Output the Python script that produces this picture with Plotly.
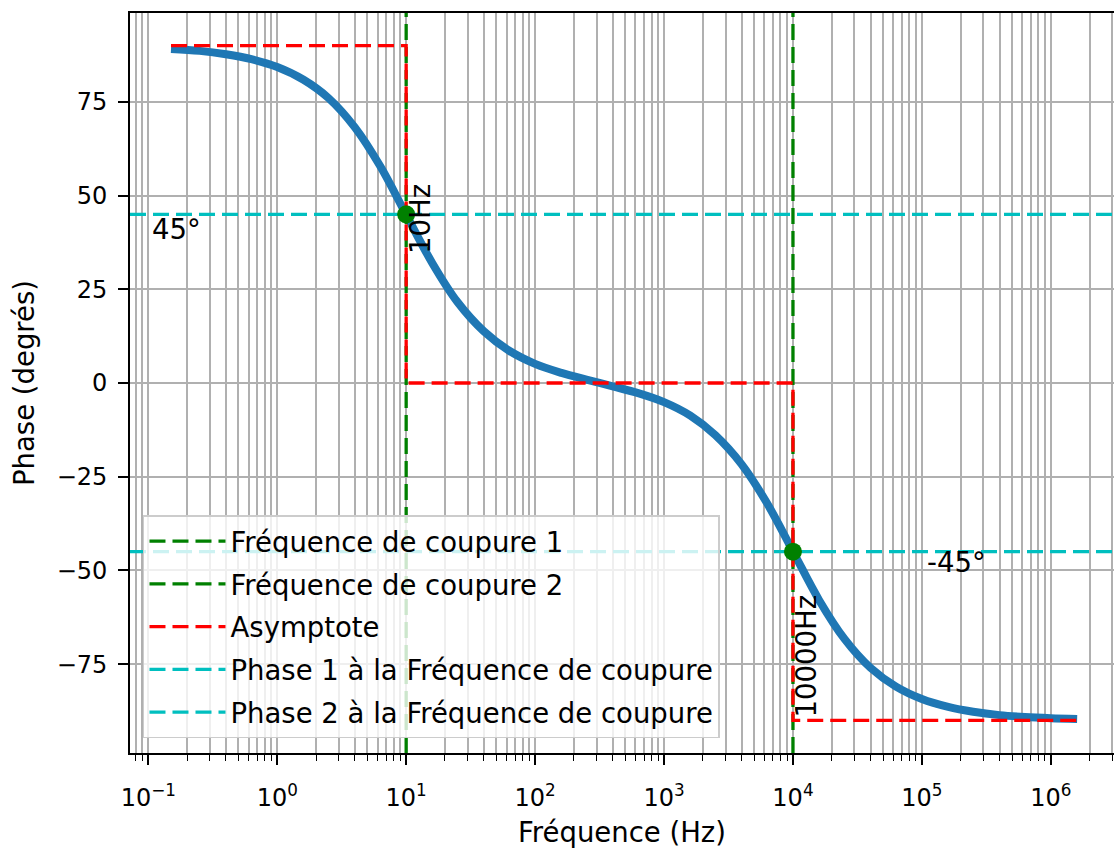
import plotly.graph_objects as go

# Cutoff frequencies (Hz) and phase at each cutoff (degrees)
f_c1 = 10
f_c2 = 10000
phase_c1 = 45
phase_c2 = -45

# Phase response of the filter
freq_hz = [0.15, 0.25, 0.4, 0.63, 1, 1.6, 2.5, 4, 6.3, 10, 16, 25, 40, 63, 100,
           160, 250, 400, 630, 1000, 1600, 2500, 4000, 6300, 10000, 16000,
           25000, 40000, 63000, 1e5, 1.6e5, 2.5e5, 4e5, 6.3e5, 1e6, 1.6e6]
phase_deg = [89.1, 88.6, 87.7, 86.4, 84.3, 80.9, 76.0, 68.2, 57.8, 44.9, 31.9,
             21.6, 13.8, 8.6, 5.1, 2.7, 0.9, -0.9, -2.7, -5.1, -8.7, -13.9,
             -21.7, -32.1, -44.9, -58.0, -68.2, -76.0, -81.0, -84.3, -86.4,
             -87.7, -88.6, -89.1, -89.4, -89.6]

# Straight-line asymptotic approximation
asym_freq = [0.15, 10, 10, 10000, 10000, 1.6e6]
asym_phase = [90, 90, 0, 0, -90, -90]

# Axis extents (log10 decades for x, degrees for y) and ticks
x_lo, x_hi = -1.142, 6.49
y_lo, y_hi = -98.7, 98.7
y_ticks = [-75, -50, -25, 0, 25, 50, 75]
x_decades = [-1, 0, 1, 2, 3, 4, 5, 6]
x_tick_text = ["10<sup>%s</sup>" % str(d).replace("-", "\u2212") for d in x_decades]

FONT = "DejaVu Sans"
FS = 27.5
TICK_FS = 24
GRID = "#b0b0b0"
DASH = "16px,7px"
LW = 3.3

fig = go.Figure()

fig.add_trace(go.Scatter(x=freq_hz, y=phase_deg, mode="lines",
                         line=dict(color="#1f77b4", width=8, shape="spline"),
                         showlegend=False, hoverinfo="skip"))

x_span = [10 ** x_lo, 10 ** x_hi]
y_span = [y_lo, y_hi]

fig.add_trace(go.Scatter(x=[f_c1, f_c1], y=y_span, mode="lines",
                         line=dict(color="#008000", width=LW, dash=DASH),
                         name="Fréquence de coupure 1", legendgroup="a"))
fig.add_trace(go.Scatter(x=[f_c2, f_c2], y=y_span, mode="lines",
                         line=dict(color="#008000", width=LW, dash=DASH),
                         name="Fréquence de coupure 2", legendgroup="b"))
fig.add_trace(go.Scatter(x=asym_freq, y=asym_phase, mode="lines",
                         line=dict(color="#ff0000", width=LW, dash=DASH),
                         name="Asymptote", legendgroup="c"))
fig.add_trace(go.Scatter(x=x_span, y=[phase_c1, phase_c1], mode="lines",
                         line=dict(color="#00bfbf", width=LW, dash=DASH),
                         name="Phase 1 à la Fréquence de coupure", legendgroup="d"))
fig.add_trace(go.Scatter(x=x_span, y=[phase_c2, phase_c2], mode="lines",
                         line=dict(color="#00bfbf", width=LW, dash=DASH),
                         name="Phase 2 à la Fréquence de coupure", legendgroup="e"))
fig.add_trace(go.Scatter(x=[f_c1, f_c2], y=[phase_c1, phase_c2], mode="markers",
                         marker=dict(color="#008000", size=18),
                         showlegend=False))

# Text labels
fig.add_annotation(x=-0.99, y=41, xref="x", yref="y", text="45°",
                   showarrow=False, xanchor="left", yanchor="middle",
                   font=dict(family=FONT, size=FS, color="black"))
fig.add_annotation(x=5.025, y=-47.7, xref="x", yref="y", text="-45°",
                   showarrow=False, xanchor="left", yanchor="middle",
                   font=dict(family=FONT, size=FS, color="black"))
fig.add_annotation(x=1, y=43.8, xref="x", yref="y", text="10Hz",
                   showarrow=False, textangle=-90, xshift=14,
                   xanchor="center", yanchor="middle",
                   font=dict(family=FONT, size=FS, color="black"))
fig.add_annotation(x=4, y=-72.7, xref="x", yref="y", text="10000Hz",
                   showarrow=False, textangle=-90, xshift=13,
                   xanchor="center", yanchor="middle",
                   font=dict(family=FONT, size=FS, color="black"))

minor_vals = [m * 10 ** d for d in range(-2, 7) for m in range(2, 10)]

fig.update_layout(
    width=1114, height=850,
    margin=dict(l=130, r=0, t=13, b=97),
    paper_bgcolor="white", plot_bgcolor="white",
    font=dict(family=FONT, size=FS, color="black"),
    xaxis=dict(type="log", range=[x_lo, x_hi], automargin=False,
               tickmode="array", tickvals=[10 ** d for d in x_decades],
               ticktext=x_tick_text, tickfont=dict(family=FONT, size=TICK_FS),
               showgrid=True, gridcolor=GRID,
               gridwidth=1.8, ticks="outside", ticklen=10, tickwidth=1.8,
               tickcolor="black", showline=True, linecolor="black",
               linewidth=1.6, mirror=True, zeroline=False,
               ticklabelstandoff=12,
               minor=dict(tickmode="array", tickvals=minor_vals,
                          ticks="outside", ticklen=6, tickwidth=1.4,
                          tickcolor="black", showgrid=True, gridcolor=GRID,
                          gridwidth=1.8),
               title=dict(text="Fréquence (Hz)", standoff=12,
                          font=dict(family=FONT, size=FS))),
    yaxis=dict(range=[y_lo, y_hi], tickmode="array", tickvals=y_ticks,
               automargin=False, tickfont=dict(family=FONT, size=TICK_FS),
               showgrid=True, gridcolor=GRID, gridwidth=1.8,
               ticks="outside", ticklen=10, tickwidth=1.8, tickcolor="black",
               showline=True, linecolor="black", linewidth=1.6,
               zeroline=False, ticklabelstandoff=6,
               title=dict(text="Phase (degrés)", standoff=14,
                          font=dict(family=FONT, size=FS))),
    legend=dict(x=0.0132, y=0.02, xanchor="left", yanchor="bottom",
                bgcolor="rgba(255,255,255,0.8)", bordercolor="#cccccc",
                borderwidth=1.5, font=dict(family=FONT, size=FS),
                itemwidth=76, tracegroupgap=4, traceorder="grouped"),
)

fig.write_html("out.html")
